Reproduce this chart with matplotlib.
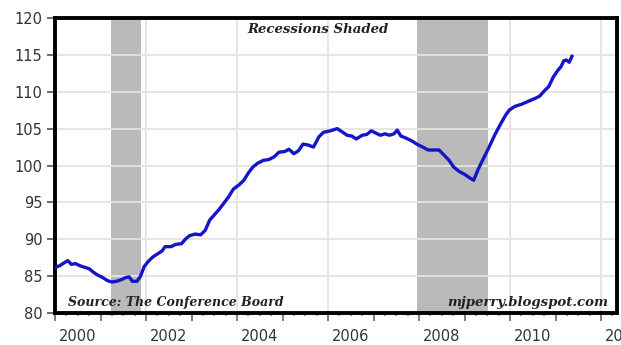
import matplotlib.pyplot as plt
from matplotlib.ticker import MultipleLocator
import matplotlib.transforms as mtransforms

# Leading index readings (decimal year, value)
years = [2000.00, 2000.10, 2000.20, 2000.28, 2000.36, 2000.45, 2000.55, 2000.65, 2000.75, 2000.85,
         2000.95, 2001.05, 2001.15, 2001.25, 2001.35, 2001.45, 2001.55, 2001.63, 2001.70, 2001.80,
         2001.88, 2001.96, 2002.05, 2002.15, 2002.25, 2002.35, 2002.42, 2002.55, 2002.65, 2002.78,
         2002.88, 2002.96, 2003.08, 2003.20, 2003.30, 2003.40, 2003.50, 2003.60, 2003.70, 2003.82,
         2003.92, 2004.05, 2004.15, 2004.25, 2004.35, 2004.45, 2004.58, 2004.70, 2004.82, 2004.92,
         2005.05, 2005.14, 2005.25, 2005.35, 2005.45, 2005.55, 2005.68, 2005.80, 2005.90, 2006.05,
         2006.20, 2006.30, 2006.42, 2006.52, 2006.62, 2006.75, 2006.85, 2006.95, 2007.05, 2007.15,
         2007.25, 2007.35, 2007.45, 2007.52, 2007.60, 2007.72, 2007.85, 2007.95, 2008.08, 2008.20,
         2008.32, 2008.44, 2008.55, 2008.66, 2008.76, 2008.88, 2009.00, 2009.12, 2009.20, 2009.30,
         2009.42, 2009.54, 2009.66, 2009.78, 2009.90, 2009.98, 2010.10, 2010.25, 2010.40, 2010.55,
         2010.65, 2010.75, 2010.85, 2010.95, 2011.05, 2011.12, 2011.18, 2011.24, 2011.30, 2011.36]
values = [86.2, 86.4, 86.8, 87.1, 86.6, 86.7, 86.4, 86.2, 86.0, 85.5,
          85.1, 84.8, 84.4, 84.2, 84.3, 84.5, 84.8, 84.9, 84.3, 84.3,
          85.0, 86.3, 87.0, 87.6, 88.0, 88.4, 89.0, 89.0, 89.3, 89.4,
          90.1, 90.5, 90.7, 90.6, 91.2, 92.6, 93.3, 94.0, 94.8, 95.8,
          96.8, 97.4, 98.0, 99.0, 99.8, 100.3, 100.7, 100.8, 101.2, 101.8,
          101.9, 102.2, 101.6, 102.0, 102.9, 102.8, 102.5, 103.9, 104.5, 104.7,
          105.0, 104.6, 104.1, 104.0, 103.6, 104.1, 104.2, 104.7, 104.4, 104.1,
          104.3, 104.1, 104.3, 104.8, 104.0, 103.7, 103.3, 102.9, 102.5, 102.1,
          102.1, 102.1, 101.4, 100.7, 99.8, 99.2, 98.8, 98.3, 98.0, 99.5,
          101.0, 102.5, 104.1, 105.5, 106.8, 107.5, 108.0, 108.3, 108.7, 109.1,
          109.4, 110.1, 110.7, 112.0, 112.9, 113.4, 114.2, 114.3, 114.0, 114.8]

recessions = [(2001.23, 2001.89), (2007.96, 2009.52)]
label_years = [2000, 2002, 2004, 2006, 2008, 2010, 2012]

fig = plt.figure(figsize=(6.21, 3.45), dpi=100)
ax = fig.add_axes([55 / 621, 32 / 345, 562 / 621, 295 / 345])

for start, end in recessions:
    ax.axvspan(start, end, color='#bababa', lw=0, zorder=1)

ax.plot(years, values, color='#1414c8', lw=2.4, zorder=3)

ax.set_xlim(2000, 2012.35)
ax.set_ylim(80, 120)
ax.yaxis.set_major_locator(MultipleLocator(5))
ax.xaxis.set_major_locator(MultipleLocator(1))
ax.xaxis.set_minor_locator(MultipleLocator(0.25))
ax.set_xticklabels([])

ax.grid(axis='y', color='#e4e4e4', lw=1.3, zorder=0)
for yr in label_years[1:]:
    ax.axvline(yr, color='#e4e4e4', lw=1.3, zorder=0)

for s in ax.spines.values():
    s.set_linewidth(2.8)
    s.set_color('black')

ax.tick_params(axis='y', length=6, width=1.2, color='#555555', pad=3,
               labelsize=10.5, labelcolor='#333333')
ax.tick_params(axis='x', which='major', length=6, width=1.2, color='#666666')
ax.tick_params(axis='x', which='minor', length=2.5, width=1.2, color='#888888')

# year labels sit in the middle of each year (the last one runs off the edge, as in the source)
trans = mtransforms.blended_transform_factory(ax.transData, ax.transAxes)
for yr in label_years:
    ax.text(yr + 0.5, -0.055, str(yr), transform=trans, ha='center', va='top',
            fontsize=10.5, color='#333333', clip_on=False)

serif = {'family': 'DejaVu Serif', 'weight': 'bold', 'style': 'italic', 'color': '#222222'}
ax.text(0.467, 0.96, 'Recessions Shaded', transform=ax.transAxes, ha='center', va='center',
        fontsize=9.5, **serif)
ax.text(0.023, 0.035, 'Source: The Conference Board', transform=ax.transAxes, ha='left', va='center',
        fontsize=9, **serif)
ax.text(0.985, 0.035, 'mjperry.blogspot.com', transform=ax.transAxes, ha='right', va='center',
        fontsize=9.5, **serif)

fig.savefig('out.png', dpi=100)
